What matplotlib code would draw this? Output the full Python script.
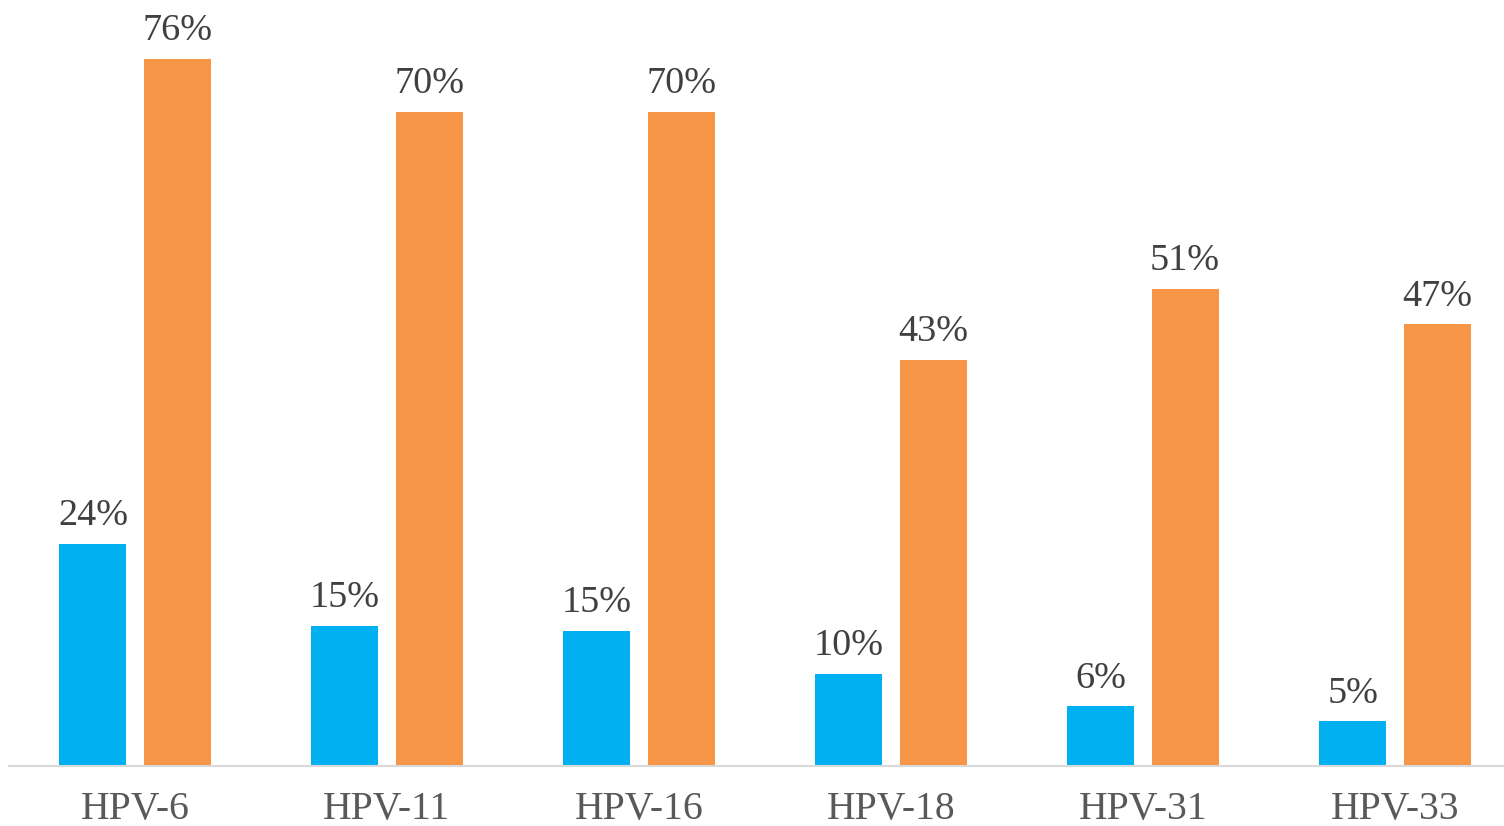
import matplotlib
matplotlib.use("Agg")
import matplotlib.pyplot as plt
import numpy as np

categories = ["HPV-6", "HPV-11", "HPV-16", "HPV-18", "HPV-31", "HPV-33"]
series_a = [23.9, 15.1, 14.5, 9.9, 6.4, 4.8]
series_b = [76.0, 70.3, 70.3, 43.7, 51.3, 47.5]
labels_a = ["24%", "15%", "15%", "10%", "6%", "5%"]
labels_b = ["76%", "70%", "70%", "43%", "51%", "47%"]

plt.rcParams['font.family'] = ['Liberation Serif', 'DejaVu Serif']

fig = plt.figure(figsize=(15.04, 8.26), dpi=100)
ax = fig.add_axes([9/1504, 60/826, 1512/1504, 766/826])

x = np.arange(len(categories))
w = 0.266
off = 0.167
ba = ax.bar(x - off, series_a, width=w, color="#00B0F0")
bb = ax.bar(x + off, series_b, width=w, color="#F79646")

for bars, labs in ((ba, labels_a), (bb, labels_b)):
    for r, t in zip(bars, labs):
        ax.annotate(t, (r.get_x() + r.get_width() / 2, r.get_height()),
                    xytext=(0, 13.5), textcoords="offset points",
                    ha="center", va="baseline", fontsize=27.5, color="#404040")

ax.set_xlim(-0.5, len(categories) - 0.5)
ax.set_ylim(0, 766 / 9.3)
ax.set_xticks(x)
ax.set_xticklabels(categories, fontsize=28.5, color="#595959")
ax.tick_params(axis="x", length=0, pad=18)
ax.set_yticks([])
for s in ("top", "right", "left"):
    ax.spines[s].set_visible(False)
ax.spines["bottom"].set_color("#D9D9D9")
ax.spines["bottom"].set_linewidth(1.5)

fig.savefig("out.png", dpi=100)
